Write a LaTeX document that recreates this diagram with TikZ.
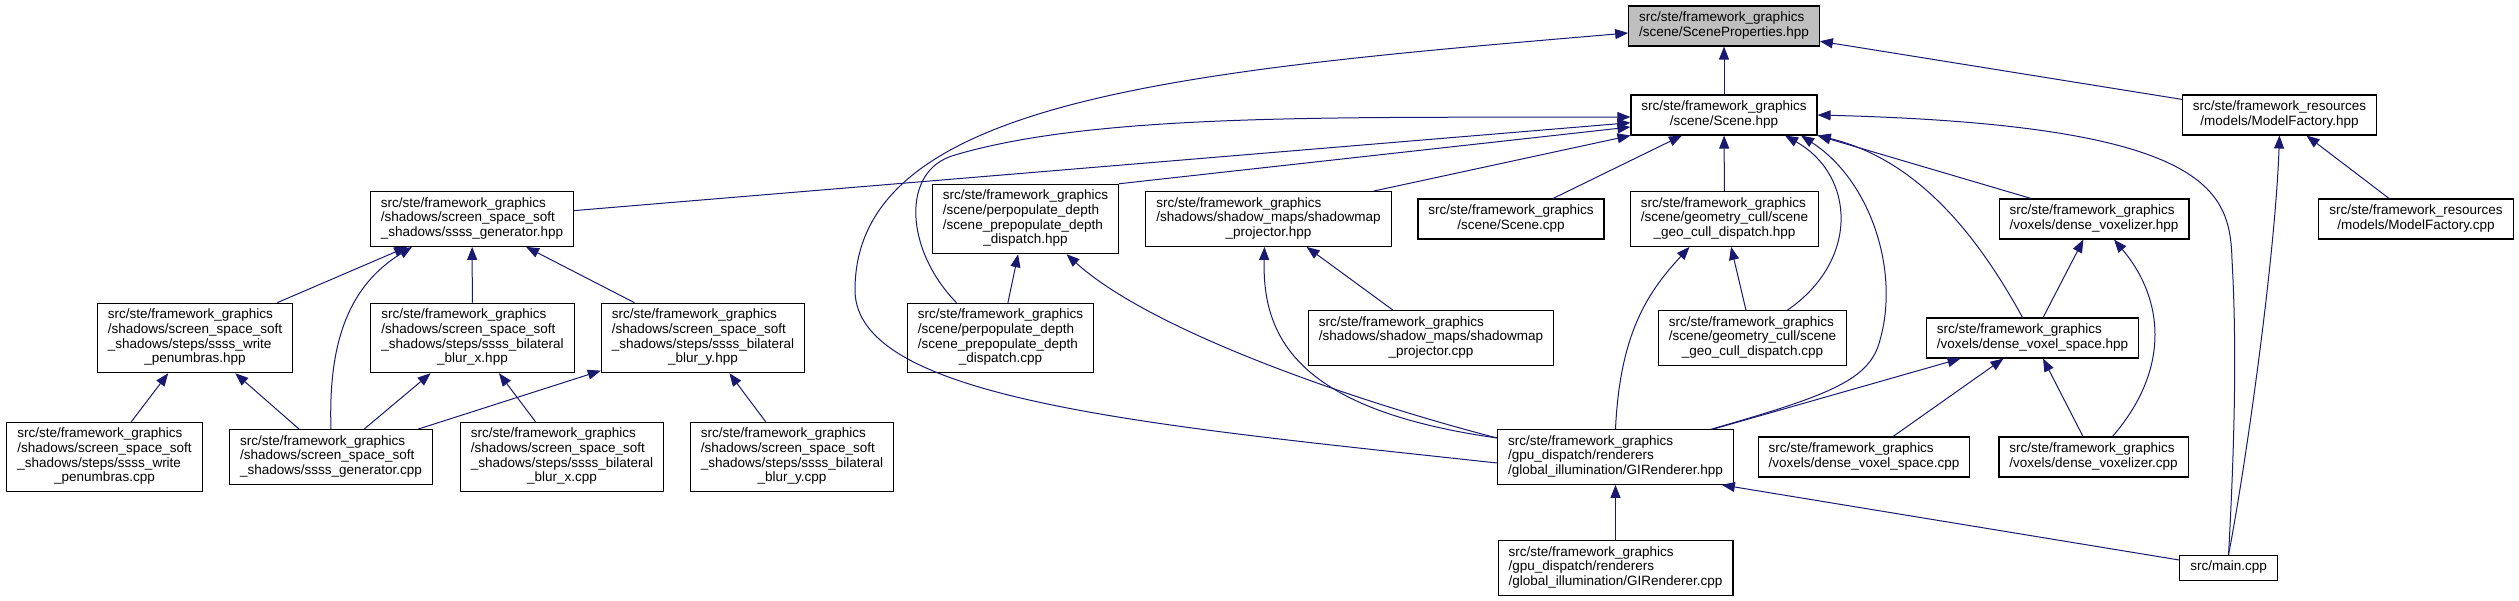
\documentclass[tikz,border=0pt]{standalone}
\usepackage{fontspec}
\setmainfont{Liberation Sans}
\usepackage{xcolor}
\usetikzlibrary{arrows.meta}
\definecolor{inclblue}{RGB}{25,25,112}
\newcommand{\flbl}[2]{\begin{tabular}{@{}l@{}}#1\\\multicolumn{1}{@{}c@{}}{#2}\end{tabular}}

\begin{document}
\begin{tikzpicture}[x=1pt,y=-1pt,
  filebox/.style={draw=black, fill=white, line width=1.1pt, inner xsep=10.5pt, inner ysep=5.3pt, font=\fontsize{13.5}{14.7}\selectfont},
  incl/.style={draw=inclblue, line width=1pt, -{Triangle[length=13pt,width=10pt]}}]
\useasboundingbox (0,0) rectangle (2519,601);

\node[filebox, fill=gray!50] (sp) at (1724,26) {\flbl{src/ste/framework\_graphics}{/scene/SceneProperties.hpp}};

\node[filebox] (sceneh) at (1724,115) {\flbl{src/ste/framework\_graphics}{/scene/Scene.hpp}};
\node[filebox] (mfh) at (2279.5,115) {\flbl{src/ste/framework\_resources}{/models/ModelFactory.hpp}};

\node[filebox] (ssssgenh) at (472,219) {\flbl{src/ste/framework\_graphics\\/shadows/screen\_space\_soft}{\_shadows/ssss\_generator.hpp}};
\node[filebox] (prepoph) at (1025.5,219) {\flbl{src/ste/framework\_graphics\\/scene/perpopulate\_depth\\/scene\_prepopulate\_depth}{\_dispatch.hpp}};
\node[filebox] (smprojh) at (1268.5,219) {\flbl{src/ste/framework\_graphics\\/shadows/shadow\_maps/shadowmap}{\_projector.hpp}};
\node[filebox] (scenec) at (1511,219) {\flbl{src/ste/framework\_graphics}{/scene/Scene.cpp}};
\node[filebox] (geocullh) at (1724.5,219) {\flbl{src/ste/framework\_graphics\\/scene/geometry\_cull/scene}{\_geo\_cull\_dispatch.hpp}};
\node[filebox] (voxelizerh) at (2094,219) {\flbl{src/ste/framework\_graphics}{/voxels/dense\_voxelizer.hpp}};
\node[filebox] (mfc) at (2416,219) {\flbl{src/ste/framework\_resources}{/models/ModelFactory.cpp}};

\node[filebox] (penumbrash) at (195,338) {\flbl{src/ste/framework\_graphics\\/shadows/screen\_space\_soft\\\_shadows/steps/ssss\_write}{\_penumbras.hpp}};
\node[filebox] (blurxh) at (472.5,338) {\flbl{src/ste/framework\_graphics\\/shadows/screen\_space\_soft\\\_shadows/steps/ssss\_bilateral}{\_blur\_x.hpp}};
\node[filebox] (bluryh) at (703,338) {\flbl{src/ste/framework\_graphics\\/shadows/screen\_space\_soft\\\_shadows/steps/ssss\_bilateral}{\_blur\_y.hpp}};
\node[filebox] (prepopc) at (1000.5,338) {\flbl{src/ste/framework\_graphics\\/scene/perpopulate\_depth\\/scene\_prepopulate\_depth}{\_dispatch.cpp}};
\node[filebox] (smprojc) at (1431,338) {\flbl{src/ste/framework\_graphics\\/shadows/shadow\_maps/shadowmap}{\_projector.cpp}};
\node[filebox] (geocullc) at (1752.5,338) {\flbl{src/ste/framework\_graphics\\/scene/geometry\_cull/scene}{\_geo\_cull\_dispatch.cpp}};
\node[filebox] (voxspaceh) at (2032.5,338) {\flbl{src/ste/framework\_graphics}{/voxels/dense\_voxel\_space.hpp}};

\node[filebox] (penumbrasc) at (104.5,457) {\flbl{src/ste/framework\_graphics\\/shadows/screen\_space\_soft\\\_shadows/steps/ssss\_write}{\_penumbras.cpp}};
\node[filebox] (ssssgenc) at (331,457) {\flbl{src/ste/framework\_graphics\\/shadows/screen\_space\_soft}{\_shadows/ssss\_generator.cpp}};
\node[filebox] (blurxc) at (562,457) {\flbl{src/ste/framework\_graphics\\/shadows/screen\_space\_soft\\\_shadows/steps/ssss\_bilateral}{\_blur\_x.cpp}};
\node[filebox] (bluryc) at (792,457) {\flbl{src/ste/framework\_graphics\\/shadows/screen\_space\_soft\\\_shadows/steps/ssss\_bilateral}{\_blur\_y.cpp}};
\node[filebox] (girh) at (1615.5,457) {\flbl{src/ste/framework\_graphics\\/gpu\_dispatch/renderers}{/global\_illumination/GIRenderer.hpp}};
\node[filebox] (voxspacec) at (1864,457) {\flbl{src/ste/framework\_graphics}{/voxels/dense\_voxel\_space.cpp}};
\node[filebox] (voxelizerc) at (2093.5,457) {\flbl{src/ste/framework\_graphics}{/voxels/dense\_voxelizer.cpp}};

\node[filebox] (girc) at (1615.5,568) {\flbl{src/ste/framework\_graphics\\/gpu\_dispatch/renderers}{/global\_illumination/GIRenderer.cpp}};
\node[filebox] (mainc) at (2228.5,568) {\begin{tabular}{@{}c@{}}src/main.cpp\end{tabular}};

% straight includes
\draw[incl] (sceneh) -- (sp);
\draw[incl] (mfh) -- (sp);
\draw[incl] (ssssgenh) -- (sceneh);
\draw[incl] (prepoph.north east) -- ([yshift=-12pt]sceneh.west);
\draw[incl] ([xshift=105pt]smprojh.north) -- (sceneh.south west);
\draw[incl] (scenec) -- (sceneh);
\draw[incl] (geocullh) -- (sceneh);
\draw[incl] ([xshift=-63pt]voxelizerh.north) -- (sceneh.south east);
\draw[incl] (mfc) -- (mfh);
\draw[incl] (penumbrash) -- (ssssgenh);
\draw[incl] (blurxh) -- (ssssgenh);
\draw[incl] (bluryh) -- (ssssgenh);
\draw[incl] (penumbrasc) -- (penumbrash);
\draw[incl] (ssssgenc) -- (penumbrash);
\draw[incl] (ssssgenc) -- (blurxh);
\draw[incl] (ssssgenc) -- (bluryh);
\draw[incl] (blurxc) -- (blurxh);
\draw[incl] (bluryc) -- (bluryh);
\draw[incl] (prepopc) -- (prepoph);
\draw[incl] (smprojc) -- (smprojh);
\draw[incl] (geocullc) -- (geocullh);
\draw[incl] (girh) -- (voxspaceh);
\draw[incl] (girc) -- (girh);
\draw[incl] ([yshift=8pt]mainc.west) -- ([xshift=-12pt]girh.south east);
\draw[incl] (voxspacec) -- (voxspaceh);
\draw[incl] (voxelizerc) -- (voxspaceh);
\draw[incl] (voxspaceh) -- (voxelizerh);

% curved includes
\draw[incl] ([yshift=-6pt]girh.west) .. controls (1148,425) and (855,400) .. (855,290) .. controls (855,100) and (1179,71) .. ([yshift=-7pt]sp.west);
\draw[incl] ([xshift=-44pt]prepopc.north) .. controls (905,250) and (900,170) .. (955,155) .. controls (1100,112) and (1350,118) .. ([yshift=-2pt]sceneh.west);
\draw[incl] ([xshift=35pt]geocullc.north) .. controls (1860,260) and (1855,175) .. ([xshift=61pt]sceneh.south);
\draw[incl] ([xshift=96pt]girh.north) .. controls (1830,395) and (1870,380) .. (1880,340) .. controls (1900,270) and (1870,180) .. ([xshift=77pt]sceneh.south);
\draw[incl] ([xshift=-10pt]voxspaceh.north) .. controls (1980,240) and (1920,160) .. (sceneh.south east);
\draw[incl] (mainc.north) .. controls (2236,420) and (2236,330) .. (2232,260) .. controls (2230,190) and (2210,125) .. (sceneh.east);
\draw[incl] (mainc.north) .. controls (2245,470) and (2275,260) .. (mfh.south);
\draw[incl] (ssssgenc.north) .. controls (328,340) and (350,285) .. ([xshift=-60pt]ssssgenh.south);
\draw[incl] ([yshift=19pt]girh.west) .. controls (1350,400) and (1150,330) .. ([xshift=41pt]prepoph.south);
\draw[incl] ([yshift=19pt]girh.west) .. controls (1300,410) and (1262,340) .. ([xshift=-4pt]smprojh.south);
\draw[incl] (girh.north) .. controls (1620,330) and (1650,290) .. ([xshift=-35pt]geocullh.south);
\draw[incl] ([xshift=19pt]voxelizerc.north) .. controls (2170,370) and (2165,300) .. ([xshift=20pt]voxelizerh.south);

\end{tikzpicture}
\end{document}
